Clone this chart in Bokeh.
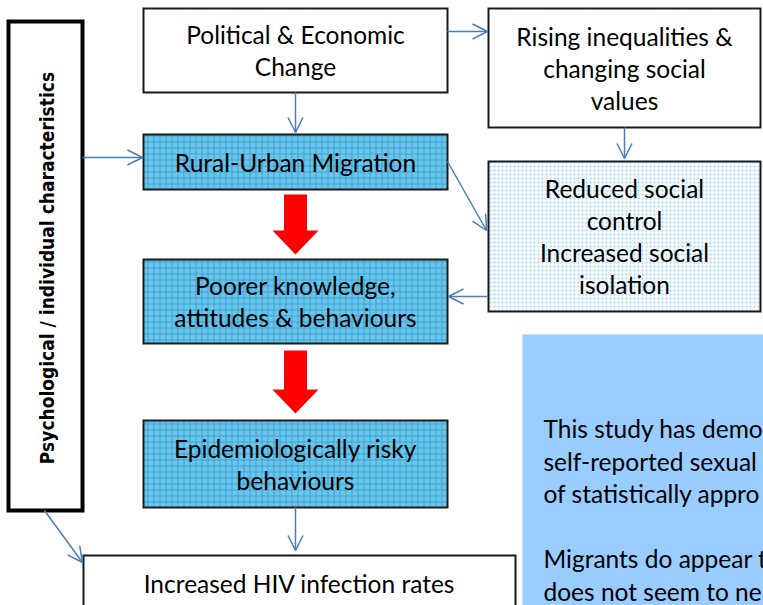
import math
from bokeh.plotting import figure
from bokeh.models import Range1d, ColumnDataSource, Arrow, OpenHead
from bokeh.core.properties import value
from bokeh.embed import file_html
from bokeh.resources import INLINE

# ---- content -------------------------------------------------------------
box_names = ["political", "rising", "rural", "reduced", "poorer", "epi", "hiv"]
box_labels = [
    ["Political & Economic", "Change"],
    ["Rising inequalities &", "changing social", "values"],
    ["Rural-Urban Migration"],
    ["Reduced social", "control", "Increased social", "isolation"],
    ["Poorer knowledge,", "attitudes & behaviours"],
    ["Epidemiologically risky", "behaviours"],
    ["Increased HIV infection rates"],
]
side_label = "Psychological / individual characteristics"
note_lines = [
    "This study has demo",
    "self-reported sexual",
    "of statistically appro",
    "",
    "Migrants do appear t",
    "does not seem to ne",
]

# ---- layout (page pixels) --------------------------------------------------
box_left = [143, 488, 143, 488, 143, 143, 83]
box_right = [447, 760, 447, 760, 447, 447, 515]
box_top = [8, 8, 134, 161, 259, 420, 555]
box_bottom = [92, 127, 189, 311, 343, 507, 625]
box_style = ["plain", "plain", "grid", "dots", "grid", "grid", "plain"]
line_gap = 32

side_box = dict(left=8, right=82, top=21, bottom=510)
note_box = dict(left=522, right=800, top=334, bottom=640)

# blue connector arrows: (x_start, y_start, x_end, y_end)
conn_x0 = [447, 295, 624, 82, 447, 487, 295, 44]
conn_y0 = [31, 92, 127, 157, 161, 296, 507, 510]
conn_x1 = [487, 295, 624, 142, 486, 448, 295, 82]
conn_y1 = [31, 132, 158, 157, 230, 296, 550, 562]

# red block arrows: centre x, top, bottom
red_cx = [295, 295]
red_top = [194, 350]
red_bottom = [254, 413]
red_shaft_w = 23
red_head_w = 46
red_head_len = 24

W, H = 763, 605
p = figure(width=W, height=H, x_range=Range1d(0, W), y_range=Range1d(H, 0),
           output_backend="svg", toolbar_location=None, min_border=0)
p.axis.visible = False
p.grid.visible = False
p.outline_line_color = None
p.background_fill_color = "white"
p.border_fill_color = "white"

FONT = value("Lato")
FS = "24.5px"

# note box
p.quad(left=[note_box["left"]], right=[note_box["right"]], top=[note_box["top"]],
       bottom=[note_box["bottom"]], fill_color="#99CCFF", line_color=None)
note_y0 = 428
note_gap = 32.5
for i, t in enumerate(note_lines):
    if t:
        p.text(x=[543], y=[note_y0 + i * note_gap], text=[t], text_font=FONT,
               text_font_size=FS, text_align="left", text_baseline="middle",
               text_color="black")

# side box
p.quad(left=[side_box["left"]], right=[side_box["right"]], top=[side_box["top"]],
       bottom=[side_box["bottom"]], fill_color="white", line_color="black", line_width=4,
       line_join="miter")
p.text(x=[(side_box["left"] + side_box["right"]) / 2 + 1],
       y=[(side_box["top"] + side_box["bottom"]) / 2 + 2], text=[side_label],
       angle=math.pi / 2, text_font=value("DejaVu Sans Condensed"), text_font_style="bold",
       text_font_size="19px", text_align="center", text_baseline="middle", text_color="black")

# boxes
for i in range(len(box_names)):
    st = box_style[i]
    kw = dict(left=[box_left[i]], right=[box_right[i]], top=[box_top[i]], bottom=[box_bottom[i]],
              line_color="#1a1a1a", line_width=2, line_join="miter")
    if st == "plain":
        p.quad(fill_color="white", **kw)
    elif st == "grid":
        p.quad(fill_color="#6CC5EA", hatch_pattern="+", hatch_color="#3AA5D5",
               hatch_scale=6, hatch_weight=1, **kw)
    else:
        p.quad(fill_color="#F4FAFD", hatch_pattern=".", hatch_color="#A6D7EE",
               hatch_scale=4, hatch_weight=1.2, **kw)
    lines = box_labels[i]
    cx = (box_left[i] + box_right[i]) / 2
    if box_names[i] == "hiv":
        cy = 583
    else:
        cy = (box_top[i] + box_bottom[i]) / 2
    n = len(lines)
    ys = [cy + (k - (n - 1) / 2) * line_gap for k in range(n)]
    p.text(x=[cx] * n, y=ys, text=lines, text_font=FONT, text_font_size=FS,
           text_align="center", text_baseline="middle", text_color="black")

# red block arrows
xs, ys = [], []
for cx, t, b in zip(red_cx, red_top, red_bottom):
    hs = b - red_head_len
    xs.append([cx - red_shaft_w / 2, cx + red_shaft_w / 2, cx + red_shaft_w / 2,
               cx + red_head_w / 2, cx, cx - red_head_w / 2, cx - red_shaft_w / 2])
    ys.append([t, t, hs, hs, b, hs, hs])
p.patches(xs=xs, ys=ys, fill_color="#FF0000", line_color=None)

# blue connectors
src = ColumnDataSource(dict(x0=conn_x0, y0=conn_y0, x1=conn_x1, y1=conn_y1))
p.add_layout(Arrow(end=OpenHead(size=15, line_color="#4A7EBB", line_width=1.5),
                   x_start="x0", y_start="y0", x_end="x1", y_end="y1", source=src,
                   line_color="#4A7EBB", line_width=1.5))

open("out.html", "w").write(file_html(p, INLINE))
